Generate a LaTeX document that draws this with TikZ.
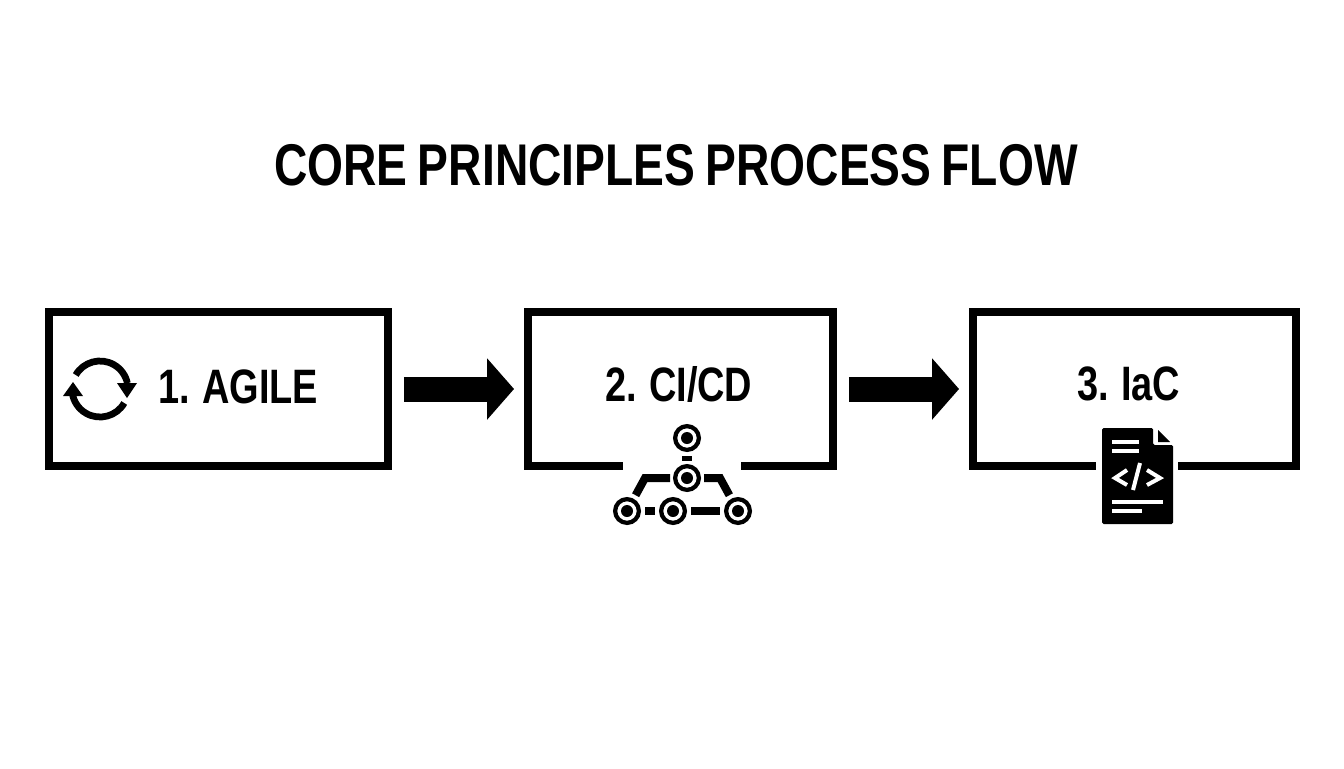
\documentclass[tikz,border=0pt]{standalone}
\usepackage{fontspec}
\setmainfont{Liberation Sans}[FakeStretch=0.785,WordSpace=0.8]
\usetikzlibrary{arrows.meta}

\tikzset{
  boxnode/.style={draw,line width=0.16cm,minimum height=3.08cm,inner sep=0pt},
  gapnode/.style={fill=white,inner sep=0pt,minimum height=0.3cm},
  stepname/.style={font=\bfseries\fontsize{27.5}{30}\selectfont},
  flow/.style={line width=0.5cm,-{Triangle[length=0.54cm,width=1.2cm]},shorten <=0.24cm,shorten >=0.2cm},
  ring/.style={circle,draw,line width=0.085cm,fill=white,minimum size=0.475cm,inner sep=0pt,
    path picture={\fill[black] (path picture bounding box.center) circle (0.12cm);}},
  pipe/.style={line width=0.16cm,line join=miter}
}

\begin{document}
\begin{tikzpicture}[x=0.02cm,y=-0.02cm]

\useasboundingbox (0,0) rectangle (1344,768);

\node[font=\bfseries\fontsize{33.5}{36}\selectfont] (title) at (676,165) {CORE PRINCIPLES PROCESS FLOW};

\node[boxnode,minimum width=6.78cm] (agile) at (218.5,389) {};
\node[boxnode,minimum width=6.1cm] (cicd) at (680.5,389) {};
\node[boxnode,minimum width=6.46cm] (iac) at (1134.5,389) {};

\node[gapnode,minimum width=2.36cm] (cicdgap) at (682,466) {};
\node[gapnode,minimum width=1.64cm] (iacgap) at (1137,466) {};

\node[stepname] (agiletext) at (238.5,387) {1. AGILE};
\node[stepname] (cicdtext) at (679,384) {2. CI/CD};
\node[stepname] (iactext) at (1129,384) {3. IaC};

\draw[flow] (agile) -- (cicd);
\draw[flow] (cicd) -- (iac);

% refresh icon
\draw[line width=0.135cm] (100,389) ++(-150:28) arc (-150:-12:28);
\draw[line width=0.135cm] (100,389) ++(30:28) arc (30:172:28);
\fill (117,383) -- (137,383) -- (127,398) -- cycle;
\fill (63,396) -- (83,396) -- (73,382) -- cycle;

% pipeline icon
\node[ring] (r1) at (687,438) {};
\node[ring] (r2) at (687,478) {};
\node[ring] (r3) at (627,511) {};
\node[ring] (r4) at (673,511) {};
\node[ring] (r5) at (738,511) {};
\coordinate (bendl) at (645,478);
\coordinate (bendr) at (720,478);
\draw[line width=0.2cm,shorten <=0.08cm,shorten >=0.06cm] (r1) -- (r2);
\draw[pipe,shorten <=0.06cm,shorten >=0.08cm] (r2) -- (bendl) -- (r3);
\draw[pipe,shorten <=0.06cm,shorten >=0.08cm] (r2) -- (bendr) -- (r5);
\draw[pipe,shorten <=0.08cm,shorten >=0.08cm] (r3) -- (r4);
\draw[pipe,shorten <=0.08cm,shorten >=0.08cm] (r4) -- (r5);

% document icon
\fill[rounded corners=0.03cm] (1102,428) -- (1153,428) -- (1153,445) -- (1173,445) -- (1173,524) -- (1102,524) -- cycle;
\fill (1158,430) -- (1170,442) -- (1158,442) -- cycle;
\begin{scope}[white,line width=0.08cm]
\draw (1112,442) -- (1139,442);
\draw (1112,451) -- (1139,451);
\draw (1127,470) -- (1115,478) -- (1127,485);
\draw (1140,463) -- (1133,490);
\draw (1147,470) -- (1160,478) -- (1147,485);
\draw (1112,502) -- (1163,502);
\draw (1112,511) -- (1142,511);
\end{scope}

\end{tikzpicture}
\end{document}
